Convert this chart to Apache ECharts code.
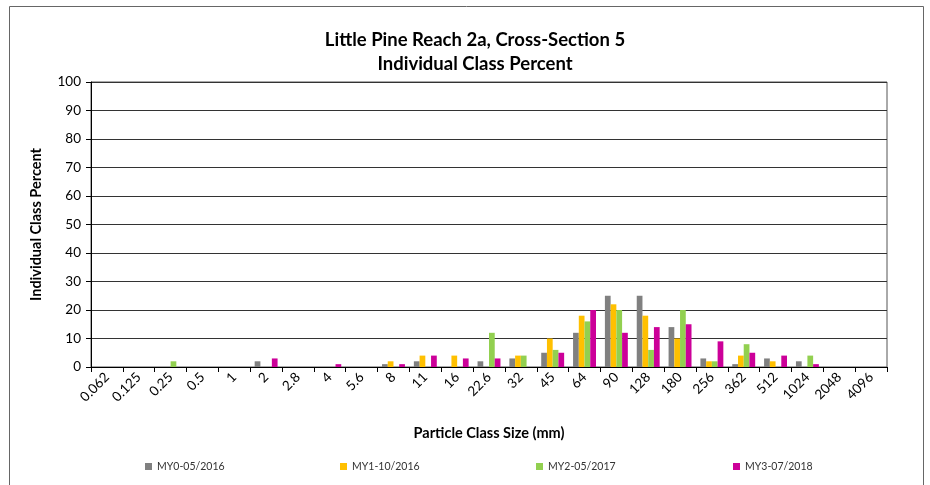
<!DOCTYPE html>
<html>
<head>
<meta charset="utf-8">
<script src="https://cdn.jsdelivr.net/npm/echarts@6/dist/echarts.min.js"></script>
<style>html,body{margin:0;padding:0;background:#fff;}#c{width:930px;height:485px;}</style>
</head>
<body>
<div id="c"></div>
<script>
var categories = ['0.062','0.125','0.25','0.5','1','2','2.8','4','5.6','8','11','16','22.6','32','45','64','90','128','180','256','362','512','1024','2048','4096'];
var seriesNames = ['MY0-05/2016','MY1-10/2016','MY2-05/2017','MY3-07/2018'];
var my0 = [0,0,0,0,0,2,0,0,0,1,2,0,2,3,5,12,25,25,14,3,1,3,2,0,0];
var my1 = [0,0,0,0,0,0,0,0,0,2,4,4,0,4,10,18,22,18,10,2,4,2,0,0,0];
var my2 = [0,0,2,0,0,0,0,0,0,0,0,0,12,4,6,16,20,6,20,2,8,0,4,0,0];
var my3 = [0,0,0,0,0,3,0,1,0,1,4,3,3,0,5,20,12,14,15,9,5,4,1,0,0];
var yTicks = [0,10,20,30,40,50,60,70,80,90,100];
var colors = ['#808080','#FFC000','#92D050','#CC0099'];
var FONT = 'Lato';

var chart = echarts.init(document.getElementById('c'));
var dataSets = [my0,my1,my2,my3];
var legendLefts = [140,335,531,728];
var option = {
  animation:false,
  backgroundColor:'#fff',
  title:{
    text:'Little Pine Reach 2a, Cross-Section 5\nIndividual Class Percent',
    left:470, textAlign:'center', top:23,
    textStyle:{fontFamily:FONT,fontWeight:'bold',fontSize:18.5,color:'#000',lineHeight:24}
  },
  graphic:[{type:'rect',shape:{x:9.5,y:6.5,width:914,height:600},style:{fill:'none',stroke:'#666',lineWidth:1},silent:true}],
  legend: legendLefts.map(function(l,i){return {
    data:[seriesNames[i]], left:l, top:456, itemWidth:7, itemHeight:7, icon:'rect',
    textStyle:{fontFamily:FONT,fontSize:10.5,color:'#333'}
  };}),
  grid:{left:91,top:82,width:796,height:285,show:true,borderColor:'#555',borderWidth:1,backgroundColor:'transparent'},
  xAxis:{
    type:'category', data:categories,
    name:'Particle Class Size (mm)', nameLocation:'middle', nameGap:59,
    nameTextStyle:{fontFamily:FONT,fontWeight:'bold',fontSize:14.5,color:'#000'},
    axisLine:{lineStyle:{color:'#000'}},
    axisTick:{show:true,length:5,lineStyle:{color:'#000'}},
    axisLabel:{rotate:45,fontFamily:FONT,fontSize:13.5,color:'#000',margin:8,interval:0}
  },
  yAxis:{
    type:'value', min:0, max:100, interval:10,
    name:'Individual Class Percent', nameLocation:'middle', nameGap:47,
    nameTextStyle:{fontFamily:FONT,fontWeight:'bold',fontSize:14.5,color:'#000'},
    axisLine:{show:true,lineStyle:{color:'#000'}},
    axisTick:{show:true,length:5,lineStyle:{color:'#000'}},
    axisLabel:{fontFamily:FONT,fontSize:13.5,color:'#000',margin:10,
      formatter:function(v){return yTicks.indexOf(v)>=0?String(v):'';}},
    splitLine:{show:true,lineStyle:{color:'#333',width:1}}
  },
  series: dataSets.map(function(d,i){return {
    name:seriesNames[i], type:'bar', data:d, barGap:'0%', barCategoryGap:'28%',
    itemStyle:{color:colors[i]}
  };})
};
chart.setOption(option);
</script>
</body>
</html>
